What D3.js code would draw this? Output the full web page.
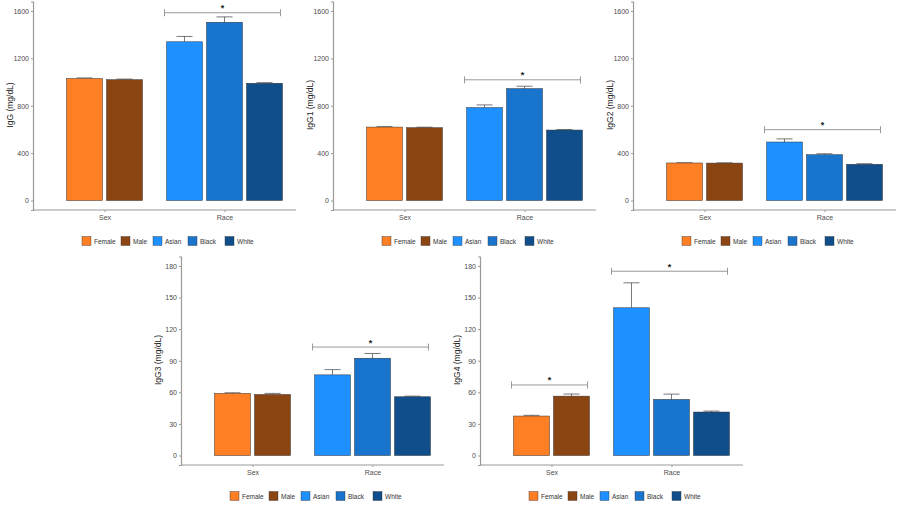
<!DOCTYPE html>
<html><head><meta charset="utf-8">
<script src="https://cdn.jsdelivr.net/npm/d3@7"></script>
<style>body{margin:0;background:#fff}svg{display:block;font-family:"Liberation Sans",Arial,sans-serif}</style>
</head><body><svg id="c" width="900" height="506"></svg>
<script>
const groups = ["Sex", "Race"];
const categories = ["Female", "Male", "Asian", "Black", "White"];
const categoryGroup = ["Sex", "Sex", "Race", "Race", "Race"];
const colors = ["#FF7F24", "#8B4513", "#1E90FF", "#1874CD", "#104E8B"];
const panelNames = ["IgG", "IgG1", "IgG2", "IgG3", "IgG4"];
const iggMeans  = [1030, 1020, 1340, 1505, 990];
const iggErr    = [5, 5, 45, 45, 5];
const igg1Means = [620, 615, 785, 945, 595];
const igg1Err   = [4, 4, 22, 20, 4];
const igg2Means = [317, 316, 494, 387, 306];
const igg2Err   = [2, 2, 26, 8, 5];
const igg3Means = [59, 58, 76.6, 92.4, 55.8];
const igg3Err   = [0.6, 1, 5, 4.5, 0.6];
const igg4Means = [37.5, 56.4, 140.3, 53.3, 41.3];
const igg4Err   = [0.7, 2, 23.7, 5, 0.9];
const ticksTop = [0, 400, 800, 1200, 1600];
const ticksBottom = [0, 30, 60, 90, 120, 150, 180];
const brackets = [
  {panel: 0, group: "Race", y: 1585},
  {panel: 1, group: "Race", y: 1019},
  {panel: 2, group: "Race", y: 598},
  {panel: 3, group: "Race", y: 103},
  {panel: 4, group: "Sex", y: 67},
  {panel: 4, group: "Race", y: 175}
];

const means = [iggMeans, igg1Means, igg2Means, igg3Means, igg4Means];
const errs = [iggErr, igg1Err, igg2Err, igg3Err, igg4Err];
const offsets = [[0,0],[300,0],[600,0],[148,255],[447,255]];
const svg = d3.select("#c");

panelNames.forEach((name, p) => {
  const [ox, oy] = offsets[p];
  const g = svg.append("g").attr("transform", `translate(${ox},${oy})`);
  const ticks = p < 3 ? ticksTop : ticksBottom;
  const maxV = ticks[ticks.length-1];
  const y = d3.scaleLinear().domain([-0.05*maxV, 1.05*maxV]).range([210, 1.5]);
  const x0 = 33, x1 = 296;
  const gx = d3.scalePoint().domain(groups).range([x0, x1]).padding(0.596);
  const barStep = 40, barW = 36;
  const barX = i => {
    const grp = categoryGroup[i];
    const members = categories.filter((c, j) => categoryGroup[j] === grp);
    const k = members.indexOf(categories[i]);
    return gx(grp) - members.length*barStep/2 + k*barStep + (barStep-barW)/2;
  };

  // axes
  const yAxis = d3.axisLeft(y).tickValues(ticks).tickFormat(d3.format("d")).tickSize(2).tickPadding(2);
  const ya = g.append("g").attr("transform", `translate(${x0},0)`).call(yAxis);
  ya.select(".domain").attr("stroke", "#9a9a9a").attr("stroke-width", 1.2);
  ya.selectAll(".tick line").attr("stroke", "#9a9a9a");
  ya.selectAll(".tick text").attr("fill", "#4d4d4d").style("font-size", "7px");
  const xAxis = d3.axisBottom(gx).tickSize(2).tickPadding(3);
  const xa = g.append("g").attr("transform", `translate(0,210)`).call(xAxis);
  xa.select(".domain").attr("d", `M${x0},0H${x1}`).attr("stroke", "#9a9a9a").attr("stroke-width", 1.2);
  xa.selectAll(".tick line").attr("stroke", "#9a9a9a");
  xa.selectAll(".tick text").attr("fill", "#4d4d4d").style("font-size", "7px");

  g.append("text").attr("transform", `translate(13,105) rotate(-90)`)
    .attr("text-anchor", "middle").style("font-size", "8.5px").attr("fill", "#222")
    .text(name + " (mg/dL)");

  // bars
  categories.forEach((c, i) => {
    const v = means[p][i], e = errs[p][i];
    const bx = barX(i);
    const cx = bx + barW/2;
    g.append("line").attr("x1", cx).attr("x2", cx).attr("y1", y(v)).attr("y2", y(v+e))
      .attr("stroke", "#555").attr("stroke-width", 0.8);
    g.append("line").attr("x1", cx-8).attr("x2", cx+8).attr("y1", y(v+e)).attr("y2", y(v+e))
      .attr("stroke", "#555").attr("stroke-width", 0.8);
    g.append("rect").attr("x", bx).attr("y", y(v)).attr("width", barW).attr("height", y(0)-y(v))
      .attr("fill", colors[i]).attr("stroke", "#333").attr("stroke-width", 0.5);
  });

  // significance brackets
  brackets.filter(b => b.panel === p).forEach(b => {
    const idx = categories.map((c,i)=>i).filter(i => categoryGroup[i] === b.group);
    const xl = barX(idx[0]) - 2, xr = barX(idx[idx.length-1]) + barW - 2;
    const by = y(b.y);
    const col = "#999";
    g.append("line").attr("x1", xl).attr("x2", xr).attr("y1", by).attr("y2", by).attr("stroke", col).attr("stroke-width", 1);
    [xl, xr].forEach(xx => g.append("line").attr("x1", xx).attr("x2", xx).attr("y1", by-3.5).attr("y2", by+3.5).attr("stroke", col).attr("stroke-width", 1));
    g.append("text").attr("x", (xl+xr)/2).attr("y", by-1.5).attr("text-anchor", "middle")
      .style("font-size", "9px").style("font-weight", "bold").attr("fill", "#222").text("*");
  });

  // legend
  const keyX = [82, 121, 153, 188, 225];
  categories.forEach((c, i) => {
    g.append("rect").attr("x", keyX[i]).attr("y", 236.5).attr("width", 9).attr("height", 9)
      .attr("fill", colors[i]).attr("stroke", "#333").attr("stroke-width", 0.4);
    g.append("text").attr("x", keyX[i] + 12).attr("y", 243.5).style("font-size", "6.5px")
      .attr("fill", "#333").text(c);
  });
});
</script></body></html>
